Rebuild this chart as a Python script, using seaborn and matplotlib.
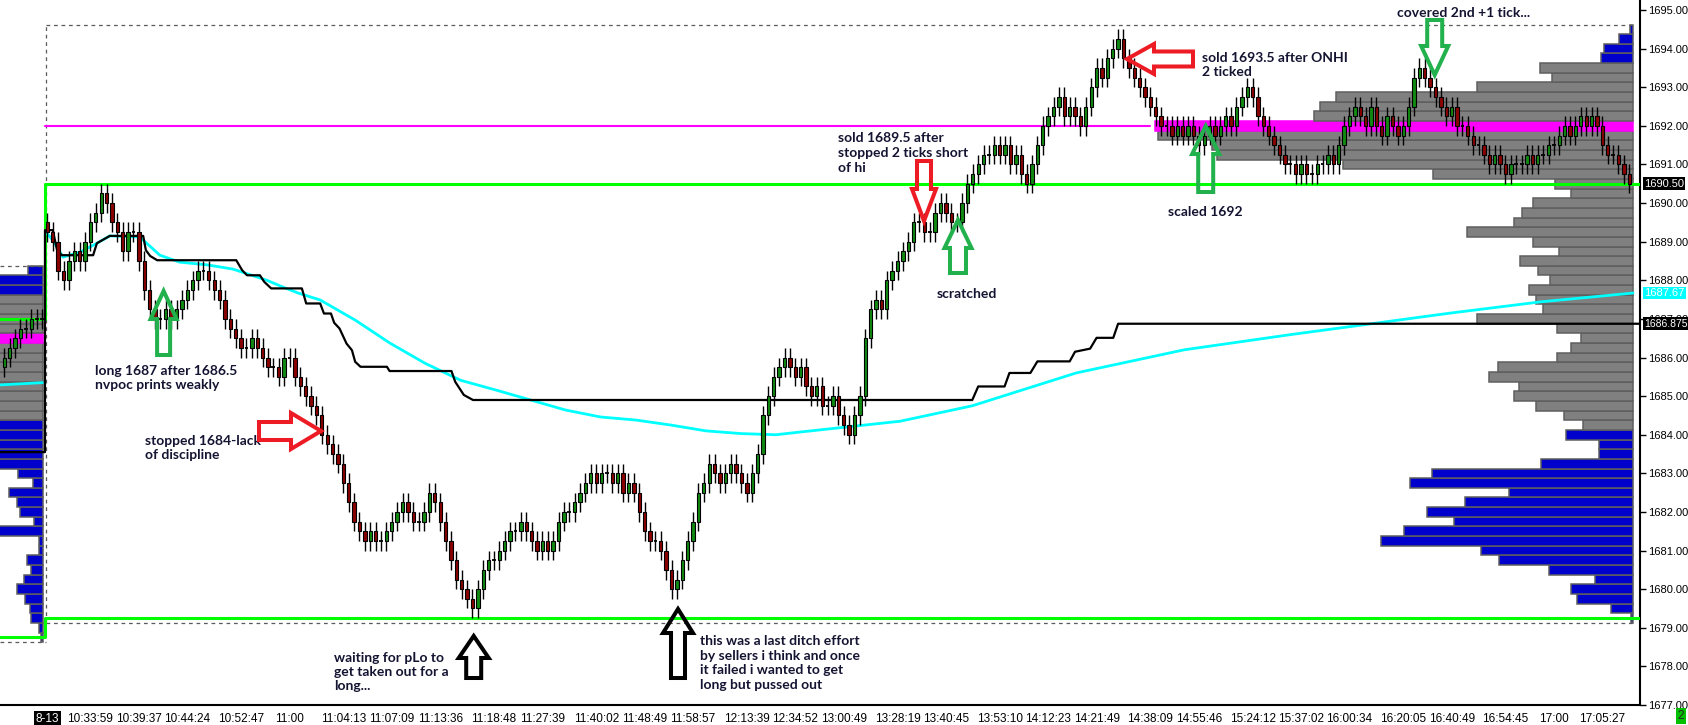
import numpy as np
import matplotlib
matplotlib.use('Agg')
import matplotlib.pyplot as plt
import matplotlib.transforms as mtransforms
from matplotlib.patches import Polygon, Rectangle
import seaborn as sns

sns.set_style('white')
plt.rcParams['font.family'] = ['Liberation Sans', 'DejaVu Sans']

# ---------------- data ----------------
# previous session tail (bars -8..-1)
pre_open = 1685.75
pre_closes = [1686.0, 1686.25, 1686.5, 1686.75, 1686.75, 1687.0, 1687.0, 1687.0]

# session bars, closing prices
first_open = 1689.5
closes = [
    1689.25, 1689.0, 1688.25, 1688.0, 1688.5, 1688.75, 1688.5, 1689.0, 1689.5, 1689.75,
    1690.25, 1690.0, 1689.5, 1689.25, 1688.75, 1689.25, 1689.25, 1688.5, 1687.75, 1687.25,
    1687.0, 1687.0, 1687.25, 1687.0, 1687.25, 1687.5, 1687.75, 1688.0, 1688.25, 1688.25,
    1688.0, 1687.75, 1687.5, 1687.0, 1686.75, 1686.5, 1686.25, 1686.25, 1686.5, 1686.25,
    1686.0, 1685.75, 1685.75, 1685.5, 1686.0, 1686.0, 1685.5, 1685.25, 1685.0, 1684.75,
    1684.5, 1684.0, 1683.75, 1683.5, 1683.25, 1682.75, 1682.25, 1681.75, 1681.5, 1681.25,
    1681.5, 1681.25, 1681.25, 1681.5, 1681.75, 1682.0, 1682.25, 1682.0, 1681.75, 1681.75,
    1682.0, 1682.5, 1682.25, 1681.75, 1681.25, 1680.75, 1680.25, 1680.0, 1679.75, 1679.5,
    1680.0, 1680.5, 1680.75, 1680.75, 1681.0, 1681.25, 1681.5, 1681.5, 1681.75, 1681.5,
    1681.25, 1681.0, 1681.25, 1681.0, 1681.25, 1681.75, 1682.0, 1682.0, 1682.25, 1682.5,
    1682.75, 1683.0, 1682.75, 1683.0, 1683.0, 1682.75, 1683.0, 1682.5, 1682.75, 1682.5,
    1682.0, 1681.5, 1681.25, 1681.25, 1681.0, 1680.5, 1680.0, 1680.25, 1680.75, 1681.25,
    1681.75, 1682.5, 1682.75, 1683.25, 1683.0, 1682.75, 1683.0, 1683.25, 1683.0, 1682.75,
    1682.5, 1683.0, 1683.5, 1684.5, 1685.0, 1685.5, 1685.75, 1686.0, 1685.75, 1685.5,
    1685.75, 1685.25, 1685.0, 1685.25, 1684.75, 1684.75, 1685.0, 1684.5, 1684.25, 1684.0,
    1684.5, 1685.0, 1686.5, 1687.25, 1687.5, 1687.25, 1688.0, 1688.25, 1688.5, 1688.75,
    1689.0, 1689.5, 1689.5, 1689.25, 1689.25, 1689.75, 1690.0, 1689.75, 1689.5, 1689.5,
    1690.0, 1690.5, 1690.75, 1691.0, 1691.25, 1691.25, 1691.5, 1691.25, 1691.5, 1691.0,
    1691.25, 1690.75, 1690.5, 1691.0, 1691.5, 1692.0, 1692.25, 1692.5, 1692.75, 1692.25,
    1692.5, 1692.25, 1692.0, 1692.5, 1693.0, 1693.5, 1693.25, 1693.75, 1694.0, 1694.25,
    1693.75, 1693.5, 1693.25, 1693.0, 1692.75, 1692.5, 1692.25, 1692.0, 1692.0, 1691.75,
    1692.0, 1691.75, 1692.0, 1691.75, 1691.5, 1691.75, 1692.0, 1691.75, 1692.0, 1692.25,
    1692.0, 1692.5, 1692.75, 1693.0, 1692.75, 1692.25, 1692.0, 1691.75, 1691.5, 1691.25,
    1691.0, 1691.0, 1690.75, 1691.0, 1690.75, 1690.75, 1691.0, 1691.0, 1691.25, 1691.0,
    1691.5, 1692.0, 1692.25, 1692.5, 1692.25, 1692.0, 1692.5, 1692.0, 1691.75, 1692.25,
    1692.0, 1691.75, 1692.0, 1692.5, 1693.25, 1693.5, 1693.25, 1693.0, 1692.75, 1692.5,
    1692.25, 1692.5, 1692.0, 1692.0, 1691.75, 1691.5, 1691.5, 1691.25, 1691.0, 1691.25,
    1691.0, 1690.75, 1691.0, 1691.0, 1691.0, 1691.25, 1691.0, 1691.25, 1691.25, 1691.5,
    1691.5, 1691.75, 1692.0, 1691.75, 1692.0, 1692.25, 1692.0, 1692.25, 1692.0, 1691.5,
    1691.25, 1691.25, 1691.0, 1690.75, 1690.5,
]

time_labels = ['8-13', '10:33:59', '10:39:37', '10:44:24', '10:52:47', '11:00', '11:04:13',
               '11:07:09', '11:13:36', '11:18:48', '11:27:39', '11:40:02', '11:48:49',
               '11:58:57', '12:13:39', '12:34:52', '13:00:49', '13:28:19', '13:40:45',
               '13:53:10', '14:12:23', '14:21:49', '14:38:09', '14:55:46', '15:24:12',
               '15:37:02', '16:00:34', '16:20:05', '16:40:49', '16:54:45', '17:00', '17:05:27']
tick_bars = [0, 8, 17, 26, 36, 45, 55, 64, 73, 83, 92, 102, 111, 120, 130, 139, 148, 158,
             167, 177, 186, 195, 205, 214, 224, 233, 242, 252, 261, 271, 280, 289]

# VWAP (cyan)
vwap_pre_x = [-8.8, -0.9]
vwap_pre_y = [1685.29, 1685.35]
vwap_x = [0, 1.0, 2.9, 6.1, 9.2, 11.6, 17.2, 20.9, 24.6, 29.7, 34.5, 40.8, 44.2, 46.6, 50.7,
          57.2, 63.7, 70.2, 76.8, 83.3, 89.8, 96.3, 102.8, 109.4, 115.9, 122.4, 128.9, 135.4,
          139.9, 158.5, 171.9, 191.2, 211.3, 231.4, 242.1, 260.7, 277.4, 294.7]
vwap_y = [1689.2, 1689.04, 1688.6, 1688.73, 1688.96, 1689.15, 1689.12, 1688.65, 1688.47,
          1688.4, 1688.29, 1688.0, 1687.8, 1687.67, 1687.49, 1686.97, 1686.37, 1685.85,
          1685.41, 1685.16, 1684.9, 1684.64, 1684.46, 1684.38, 1684.25, 1684.1, 1684.03,
          1684.0, 1684.07, 1684.35, 1684.75, 1685.6, 1686.2, 1686.6, 1686.8, 1687.15,
          1687.44, 1687.67]

# developing POC (black)
dpoc_x = [-8.81, -0.45, -0.45, 1.0, 1.8, 2.7, 8.5, 9.2, 11.6, 17.8, 18.3, 19.1, 20.4, 35.1,
          36.2, 37.1, 39.5, 40.3, 41.6, 47.3, 48.1, 50.7, 51.4, 52.7, 53.3, 54.3, 55.6, 56.6,
          57.2, 58.2, 63.1, 63.6, 75.1, 75.8, 77.4, 79.1, 171.9, 173.0, 177.9, 178.8, 182.7,
          184.0, 190.0, 191.0, 193.8, 195.0, 198.1, 199.0, 296.0]
dpoc_y = [1683.55, 1683.55, 1689.3, 1689.3, 1688.78, 1688.65, 1688.65, 1688.96, 1689.15,
          1689.15, 1688.78, 1688.63, 1688.52, 1688.52, 1688.26, 1688.13, 1688.13, 1687.96,
          1687.79, 1687.79, 1687.4, 1687.4, 1687.14, 1687.14, 1686.9, 1686.75, 1686.36,
          1686.19, 1685.89, 1685.76, 1685.76, 1685.65, 1685.65, 1685.37, 1685.03, 1684.9,
          1684.9, 1685.25, 1685.25, 1685.6, 1685.6, 1685.9, 1685.9, 1686.15, 1686.23,
          1686.51, 1686.51, 1686.875, 1686.875]

# session volume profile (low -> high, one value per tick)
prof_low = 1679.25
prof_vol = [2, 22, 56, 62, 38, 84, 134, 152, 252, 229, 179, 206, 168, 124, 223, 201, 92, 34,
            34, 67, 50, 69, 97, 119, 114, 144, 135, 76, 62, 52, 76, 156, 90, 97, 104, 83, 95,
            113, 74, 100, 166, 119, 111, 100, 62, 78, 200, 290, 416, 421, 475, 478, 319, 313,
            297, 156, 81, 93, 32, 29, 14, 3]
prof_va = (1684.25, 1693.5)
prof_poc = 1692.0

# previous session profile
pre_prof_low = 1678.75
pre_prof_vol = [2, 4, 12, 13, 18, 26, 19, 12, 16, 4, 4, 50, 9, 23, 26, 34, 10, 25, 50, 45, 60,
                60, 60, 60, 60, 60, 60, 60, 60, 60, 60, 60, 60, 60, 60, 60, 60, 60, 15]
pre_prof_va = (1684.5, 1687.5)
pre_prof_poc = 1686.5

session_high, session_low = 1690.5, 1679.25      # green lines (today)
pre_high, pre_low = 1687.0, 1678.75              # green lines (prior)
range_top, range_bot = 1694.625, 1679.125        # dashed box
pre_top, pre_bot = 1688.375, 1678.625
onpoc = 1692.0

# ---------------- figure ----------------
W, H = 1688, 725
fig = plt.figure(figsize=(W / 100, H / 100), dpi=100)
ax = fig.add_axes([0, 20 / H, 1640 / W, 705 / H])
ax.set_xlim(-8.81, 296.0)
ax.set_ylim(1677.0, 1695.26)
px_per_bar = 5.38
split = -0.45

# profiles
def draw_profile(low, vols, va, poc, right):
    lv = low + 0.25 * np.arange(len(vols))
    w = np.array(vols) / px_per_bar
    cols = ['#ff00ff' if abs(l - poc) < 1e-6 else ('#808080' if va[0] <= l <= va[1] else '#0000cc')
            for l in lv]
    edges = ['#ff00ff' if c == '#ff00ff' else '#5f5f5f' for c in cols]
    ax.barh(lv, w, left=right - w, height=0.25, color=cols, edgecolor=edges, linewidth=1.1, zorder=1)

draw_profile(prof_low, prof_vol, prof_va, prof_poc, 294.7)
draw_profile(pre_prof_low, pre_prof_vol, pre_prof_va, pre_prof_poc, -0.87)

# dashed range boxes
dash = dict(color='#5a5a5a', lw=0.9, ls=(0, (3, 3)), zorder=2)
ax.plot([-0.3, 294.7], [range_top, range_top], **dash)
ax.plot([-0.3, 294.7], [range_bot, range_bot], **dash)
ax.plot([-0.3, -0.3], [range_bot, range_top], **dash)
ax.plot([-8.81, -0.3], [pre_top, pre_top], **dash)
ax.plot([-8.81, -0.3], [pre_bot, pre_bot], **dash)

# magenta ON poc line
ax.plot([split, 205], [onpoc, onpoc], color='#ff00ff', lw=1.5, zorder=2)

# green high / low
ax.plot([-8.81, split, split, 296], [pre_high, pre_high, session_high, session_high],
        color='#00ff00', lw=2.2, zorder=3)
ax.plot([-8.81, split, split, 296], [pre_low, pre_low, session_low, session_low],
        color='#00ff00', lw=2.2, zorder=3)

# vwap and developing poc
sns.lineplot(x=vwap_pre_x, y=vwap_pre_y, ax=ax, color='#00ffff', lw=2, sort=False, estimator=None, zorder=3)
sns.lineplot(x=vwap_x, y=vwap_y, ax=ax, color='#00ffff', lw=2, sort=False, estimator=None, zorder=3)
sns.lineplot(x=dpoc_x, y=dpoc_y, ax=ax, color='black', lw=1.6, sort=False, estimator=None, zorder=3)

# candles
def draw_candles(xs, first, cl):
    cl = np.array(cl)
    op = np.concatenate([[first], cl[:-1]])
    xs = np.asarray(xs, dtype=float)
    hi = np.maximum(op, cl) + 0.25
    lo = np.minimum(op, cl) - 0.25
    ax.vlines(xs, lo, hi, color='black', lw=1.0, zorder=4)
    up, dn, fl = cl > op, cl < op, cl == op
    ax.bar(xs[up], (cl - op)[up], bottom=op[up], width=0.62, color='#118a11',
           edgecolor='black', linewidth=0.8, zorder=5)
    ax.bar(xs[dn], (op - cl)[dn], bottom=cl[dn], width=0.62, color='#8b0000',
           edgecolor='black', linewidth=0.8, zorder=5)
    ax.hlines(op[fl], xs[fl] - 0.35, xs[fl] + 0.35, color='black', lw=1.3, zorder=5)

draw_candles(np.arange(-len(pre_closes), 0), pre_open, pre_closes)
draw_candles(np.arange(len(closes)), first_open, closes)

# axes styling
for s in ['top', 'left']:
    ax.spines[s].set_visible(False)
for s in ['bottom', 'right']:
    ax.spines[s].set_color('black')
    ax.spines[s].set_linewidth(1.5)
ax.yaxis.tick_right()
ax.set_yticks(np.arange(1677, 1696, 1))
ax.set_yticklabels([f'{v:.2f}' for v in np.arange(1677, 1696, 1)])
ax.tick_params(axis='y', direction='out', length=4, width=1, pad=2, labelsize=8, colors='black')
ax.set_xticks(tick_bars)
ax.set_xticklabels(time_labels)
ax.tick_params(axis='x', direction='out', length=3, width=1, pad=3, labelsize=8.5, colors='black')
ax.set_xlabel('')
ax.set_ylabel('')
lab0 = ax.get_xticklabels()[0]
lab0.set_color('white')
lab0.set_bbox(dict(facecolor='black', edgecolor='none', pad=1.5))

# price markers on axis
blend = mtransforms.blended_transform_factory(ax.transAxes, ax.transData)
for val, txt, bg, fs in [(1690.5, '1690.50', 'black', 8), (1687.67, '1687.67', '#00ffff', 8),
                         (1686.875, '1686.875', 'black', 7.5)]:
    ax.text(1.0025, val, txt, transform=blend, ha='left', va='center', fontsize=fs,
            color='white', bbox=dict(facecolor=bg, edgecolor='none', pad=1.0), clip_on=False, zorder=10)

# hide lower half of bottom label, corner box
fig.patches.append(Rectangle((1641 / W, 0), 47 / W, 16 / H, transform=fig.transFigure,
                             facecolor='white', edgecolor='none', zorder=20))
fig.text(1681 / W, 1 - 716 / H, '2', ha='center', va='center', fontsize=8.5, zorder=21,
         bbox=dict(facecolor='#00c000', edgecolor='none', pad=1.5))

# annotations (pixel placement)
def fxy(x, y):
    return x / W, 1 - y / H

note = dict(ha='left', va='center', fontsize=10, fontweight='bold', color='#141432',
            family=['Lato', 'DejaVu Sans'], linespacing=1.25)
notes = [
    (95, 378, 'long 1687 after 1686.5\nnvpoc prints weakly'),
    (145, 448, 'stopped 1684-lack\nof discipline'),
    (334, 672, 'waiting for pLo to\nget taken out for a\nlong...'),
    (700, 663, 'this was a last ditch effort\nby sellers i think and once\nit failed i wanted to get\nlong but pussed out'),
    (838, 153, 'sold 1689.5 after\nstopped 2 ticks short\nof hi'),
    (937, 294, 'scratched'),
    (1202, 65, 'sold 1693.5 after ONHI\n2 ticked'),
    (1168, 212, 'scaled 1692'),
    (1397, 13, 'covered 2nd +1 tick...'),
]
for x, y, s in notes:
    fig.text(*fxy(x, y), s, **note)

def block_arrow(tx, ty, d, L, sw, hw, hl, color):
    loc = [(0, -sw / 2), (L - hl, -sw / 2), (L - hl, -hw / 2), (L, 0),
           (L - hl, hw / 2), (L - hl, sw / 2), (0, sw / 2)]
    pts = []
    for u, v in loc:
        if d == 'up':
            px, py = tx + v, ty + (L - u)
        elif d == 'down':
            px, py = tx + v, ty - (L - u)
        elif d == 'right':
            px, py = tx - (L - u), ty + v
        else:
            px, py = tx + (L - u), ty + v
        pts.append(fxy(px, py))
    fig.patches.append(Polygon(pts, closed=True, fill=False, edgecolor=color, lw=2.9,
                               transform=fig.transFigure, zorder=15, joinstyle='miter'))

green, red = '#22b14c', '#ed1c24'
block_arrow(163.6, 291, 'up', 64, 13, 26, 28, green)
block_arrow(321, 431, 'right', 62, 18, 36, 30, red)
block_arrow(473.7, 636, 'up', 42, 15, 30, 22, 'black')
block_arrow(678, 609, 'up', 69, 14, 30, 24, 'black')
block_arrow(924, 221, 'down', 60, 14, 24, 32, red)
block_arrow(958, 220, 'up', 53, 16, 27, 28, green)
block_arrow(1127, 59, 'left', 66, 15, 30, 27, red)
block_arrow(1205.7, 126, 'up', 66, 15, 27, 28, green)
block_arrow(1434.7, 75, 'down', 55, 15, 27, 29, green)

fig.savefig('out.png', dpi=100)
